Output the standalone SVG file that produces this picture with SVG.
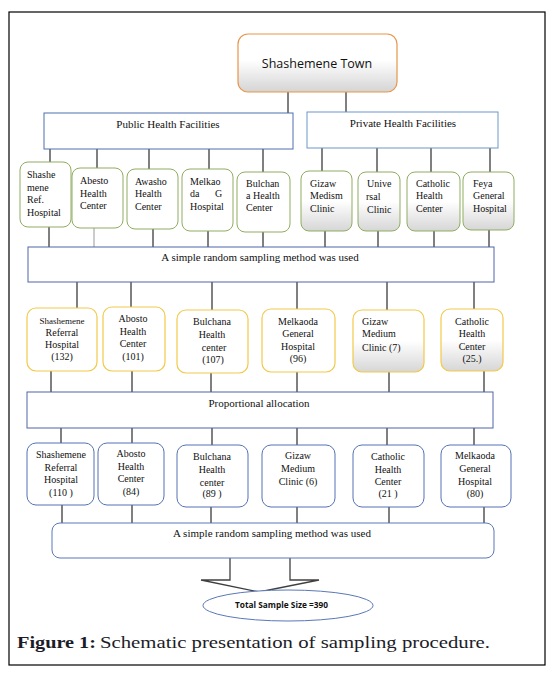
<svg xmlns="http://www.w3.org/2000/svg" width="558" height="675" viewBox="0 0 558 675">
<defs>
<linearGradient id="gTop" x1="0" y1="0" x2="0" y2="1">
<stop offset="0" stop-color="#ffffff"/><stop offset="0.45" stop-color="#ffffff"/><stop offset="1" stop-color="#d4d4d4"/>
</linearGradient>
<linearGradient id="gGray" x1="0" y1="0" x2="0" y2="1">
<stop offset="0" stop-color="#ffffff"/><stop offset="0.5" stop-color="#ffffff"/><stop offset="1" stop-color="#d6d6d6"/>
</linearGradient>
<style>
.frame{fill:#fff;stroke:#000;stroke-width:1.2}
.ln{stroke:#000;stroke-width:1;fill:none}
.g{stroke:#8fad60;stroke-width:1;fill:#fff}
.gg{stroke:#8fad60;stroke-width:1;fill:url(#gGray)}
.y{stroke:#f2c94a;stroke-width:1.2;fill:#fff}
.yg{stroke:#f2c94a;stroke-width:1.2;fill:url(#gGray)}
.b{stroke:#5572b5;stroke-width:1;fill:#fff}
.box{stroke:#5064a8;stroke-width:1;fill:#fff}
.t{font-family:"Liberation Serif","Times New Roman",serif;font-size:10px;fill:#111}
.tc{font-family:"Liberation Serif","Times New Roman",serif;font-size:10px;fill:#111;text-anchor:middle}
.tb{font-family:"Liberation Serif","Times New Roman",serif;font-size:11px;fill:#111;text-anchor:middle}
</style>
</defs>
<rect class="frame" x="9" y="12" width="536" height="653"/>

<g id="connectors">
<path class="ln" d="M288 92V113M346 92V112"/>
<path class="ln" d="M50 149V162M97 149V168M149 149V169M209 149V169M263 149V172M322 148V171M377 148V172M431 148V172M490 148V172"/>
<path class="ln" d="M49 227V247M153 229V247M208 231V247M263 232V247M325 231V247M378 231V247M434 231V247M489 230V247"/>
<path d="M94 228V247" stroke="#999" stroke-width="1"/>
<path class="ln" d="M77 282V308M131 282V307M212 282V310M297 282V309M387 282V310M474 282V309"/>
<path class="ln" d="M51 371V392M132 371V392M211 373V392M297 372V392M389 372V392M484 371V392"/>
<path class="ln" d="M61 428V443M132 428V443M212 428V445M297 428V445M387 428V445M474 428V445"/>
<path class="ln" d="M62 505V523M132 505V523M211 507V523M297 507V523M389 507V523M484 507V523"/>
<path d="M230 557V580H201L259 592L319 580H290V557" fill="#fff" stroke="#404040" stroke-width="1.3"/>
</g>

<g id="town">
<rect x="238" y="34" width="159" height="58" rx="10" fill="url(#gTop)" stroke="#e8954a" stroke-width="1.2"/>
<text x="317" y="68" text-anchor="middle" font-family="'Open Sans','Liberation Sans',sans-serif" font-size="12.5" fill="#111">Shashemene Town</text>
</g>

<g id="public">
<rect x="44" y="113" width="249" height="36" stroke="#4e6eb0" stroke-width="1" fill="#fff"/>
<text class="tb" x="168" y="128" font-size="10.5">Public Health Facilities</text>
</g>
<g id="private">
<rect x="307" y="112" width="191" height="36" stroke="#6a98c8" stroke-width="1" fill="#fff"/>
<text class="tb" x="403" y="127" font-size="10.5">Private Health Facilities</text>
</g>

<g id="r1-shashe"><rect class="g" x="20" y="162" width="51" height="65" rx="8"/>
<text class="t"><tspan x="27" y="178">Shashe</tspan><tspan x="27" y="191">mene</tspan><tspan x="27" y="203">Ref.</tspan><tspan x="27" y="216">Hospital</tspan></text></g>
<g id="r1-abesto"><rect class="g" x="72" y="168" width="51" height="60" rx="8"/>
<text class="t"><tspan x="80" y="184">Abesto</tspan><tspan x="80" y="196.5">Health</tspan><tspan x="80" y="209">Center</tspan></text></g>
<g id="r1-awasho"><rect class="g" x="127" y="169" width="51" height="60" rx="8"/>
<text class="t"><tspan x="135" y="185">Awasho</tspan><tspan x="135" y="197">Health</tspan><tspan x="135" y="210">Center</tspan></text></g>
<g id="r1-melkao"><rect class="g" x="182" y="169" width="51" height="62" rx="8"/>
<text class="t"><tspan x="190" y="185">Melkao</tspan><tspan x="190" y="197">da</tspan><tspan x="215" y="197">G</tspan><tspan x="190" y="210">Hospital</tspan></text></g>
<g id="r1-bulchan"><rect class="g" x="237" y="172" width="53" height="60" rx="8"/>
<text class="t"><tspan x="246" y="187">Bulchan</tspan><tspan x="246" y="199">a</tspan><tspan x="253" y="199">Health</tspan><tspan x="246" y="211">Center</tspan></text></g>
<g id="r1-gizaw"><rect class="gg" x="301" y="171" width="51" height="60" rx="8"/>
<text class="t"><tspan x="310" y="187">Gizaw</tspan><tspan x="310" y="199">Medism</tspan><tspan x="310" y="212">Clinic</tspan></text></g>
<g id="r1-unive"><rect class="gg" x="358" y="172" width="42" height="59" rx="8"/>
<text class="t"><tspan x="367" y="187">Unive</tspan><tspan x="366" y="200">rsal</tspan><tspan x="367" y="213">Clinic</tspan></text></g>
<g id="r1-catholic"><rect class="gg" x="407" y="172" width="53" height="59" rx="8"/>
<text class="t"><tspan x="416" y="187">Catholic</tspan><tspan x="416" y="199">Health</tspan><tspan x="416" y="212">Center</tspan></text></g>
<g id="r1-feya"><rect class="gg" x="463" y="172" width="51" height="58" rx="8"/>
<text class="t"><tspan x="473" y="187">Feya</tspan><tspan x="473" y="199">General</tspan><tspan x="473" y="212">Hospital</tspan></text></g>

<g id="sampling1"><rect class="box" x="28" y="247" width="466" height="35"/>
<text class="tb" x="260" y="261">A simple random sampling method was used</text></g>

<g id="r2-shashe"><rect class="y" x="27" y="308" width="70" height="63" rx="9"/>
<text class="tc"><tspan x="62" y="324" font-size="9">Shashemene</tspan><tspan x="62" y="336">Referral</tspan><tspan x="62" y="348">Hospital</tspan><tspan x="62" y="360">(132)</tspan></text></g>
<g id="r2-abosto"><rect class="y" x="103" y="307" width="62" height="64" rx="9"/>
<text class="tc"><tspan x="133" y="322">Abosto</tspan><tspan x="133" y="335">Health</tspan><tspan x="133" y="347">Center</tspan><tspan x="133" y="360">(101)</tspan></text></g>
<g id="r2-bulchana"><rect class="y" x="177" y="310" width="71" height="63" rx="9"/>
<text class="tc"><tspan x="212" y="325">Bulchana</tspan><tspan x="212" y="338">Health</tspan><tspan x="214" y="351">center</tspan><tspan x="213" y="363">(107)</tspan></text></g>
<g id="r2-melkaoda"><rect class="y" x="262" y="309" width="73" height="63" rx="9"/>
<text class="tc"><tspan x="298" y="325">Melkaoda</tspan><tspan x="298" y="337">General</tspan><tspan x="298" y="350">Hospital</tspan><tspan x="298" y="362">(96)</tspan></text></g>
<g id="r2-gizaw"><rect class="yg" x="353" y="310" width="71" height="62" rx="9"/>
<text class="t"><tspan x="362" y="325">Gizaw</tspan><tspan x="362" y="337">Medium</tspan><tspan x="362" y="351">Clinic (7)</tspan></text></g>
<g id="r2-catholic"><rect class="yg" x="441" y="309" width="62" height="62" rx="9"/>
<text class="tc"><tspan x="472" y="325">Catholic</tspan><tspan x="472" y="337">Health</tspan><tspan x="472" y="350">Center</tspan><tspan x="472" y="362">(25.)</tspan></text></g>

<g id="proportional"><rect class="box" x="27" y="392" width="466" height="36"/>
<text class="tb" x="259" y="407">Proportional allocation</text></g>

<g id="r3-shashe"><rect class="b" x="27" y="443" width="67" height="62" rx="9"/>
<text class="tc"><tspan x="61" y="458">Shashemene</tspan><tspan x="61" y="471">Referral</tspan><tspan x="61" y="483">Hospital</tspan><tspan x="61" y="496">(110 )</tspan></text></g>
<g id="r3-abosto"><rect class="b" x="98" y="443" width="66" height="62" rx="9"/>
<text class="tc"><tspan x="131" y="457">Abosto</tspan><tspan x="131" y="470">Health</tspan><tspan x="131" y="482">Center</tspan><tspan x="131" y="495">(84)</tspan></text></g>
<g id="r3-bulchana"><rect class="b" x="177" y="445" width="71" height="62" rx="9"/>
<text class="tc"><tspan x="212" y="460">Bulchana</tspan><tspan x="212" y="473">Health</tspan><tspan x="212" y="486">center</tspan><tspan x="212" y="497">(89 )</tspan></text></g>
<g id="r3-gizaw"><rect class="b" x="262" y="445" width="73" height="62" rx="9"/>
<text class="tc"><tspan x="298" y="459">Gizaw</tspan><tspan x="298" y="472">Medium</tspan><tspan x="298" y="485">Clinic (6)</tspan></text></g>
<g id="r3-catholic"><rect class="b" x="353" y="445" width="71" height="62" rx="9"/>
<text class="tc"><tspan x="388" y="460">Catholic</tspan><tspan x="388" y="473">Health</tspan><tspan x="388" y="485">Center</tspan><tspan x="388" y="497">(21 )</tspan></text></g>
<g id="r3-melkaoda"><rect class="b" x="441" y="445" width="70" height="62" rx="9"/>
<text class="tc"><tspan x="475" y="459">Melkaoda</tspan><tspan x="475" y="472">General</tspan><tspan x="475" y="485">Hospital</tspan><tspan x="475" y="497">(80)</tspan></text></g>

<g id="sampling2"><rect x="52" y="523" width="442" height="35" rx="8" fill="#fff" stroke="#5a78b8" stroke-width="1"/>
<text class="tb" x="272" y="537" textLength="198" lengthAdjust="spacing">A simple random sampling method was used</text></g>

<g id="total"><ellipse cx="288" cy="605.5" rx="85" ry="15.5" fill="#fff" stroke="#5a78b8" stroke-width="1"/>
<text x="281.5" y="608" text-anchor="middle" font-family="'Open Sans','Liberation Sans',sans-serif" font-size="8.5" font-weight="bold" fill="#111" textLength="93" lengthAdjust="spacingAndGlyphs">Total Sample  Size =390</text></g>

<g id="caption">
<text y="648" font-family="'Liberation Serif','Times New Roman',serif" font-size="17" fill="#1c1c28"><tspan x="17" font-weight="bold" textLength="79" lengthAdjust="spacingAndGlyphs">Figure 1:</tspan><tspan x="100" textLength="390" lengthAdjust="spacingAndGlyphs">Schematic presentation of sampling procedure.</tspan></text>
</g>
</svg>
